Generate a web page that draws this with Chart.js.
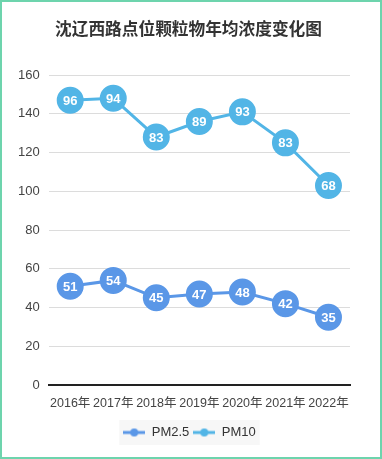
<!DOCTYPE html>
<html><head><meta charset="utf-8">
<script src="https://cdn.jsdelivr.net/npm/chart.js@4/dist/chart.umd.min.js"></script>
<style>
html,body{margin:0;padding:0;background:#fff;}
#wrap{position:relative;width:382px;height:459px;}
#frame{position:absolute;left:0;top:0;width:382px;height:459px;box-sizing:border-box;border:2px solid #6dd4ad;pointer-events:none;}
canvas{display:block;}
</style></head>
<body>
<div id="wrap"><canvas id="c" width="382" height="459"></canvas><div id="frame"></div></div>
<script>
const titleText = "沈辽西路点位颗粒物年均浓度变化图";
const categories = ["2016年","2017年","2018年","2019年","2020年","2021年","2022年"];
const pm25 = [51,54,45,47,48,42,35];
const pm10 = [96,94,83,89,93,83,68];
const seriesNames = ["PM2.5","PM10"];
const seriesColors = ["#5a97e7","#52b5e6"];
const yTicks = {min:0,max:160,step:20};

const FONT = "'Liberation Sans','Noto Sans CJK SC',Arial,sans-serif";

function legendIcon(color){
  const cv = document.createElement('canvas');
  cv.width = 22; cv.height = 10;
  const x = cv.getContext('2d');
  x.strokeStyle = color; x.lineWidth = 3;
  x.beginPath(); x.moveTo(0,5); x.lineTo(22,5); x.stroke();
  x.fillStyle = color; x.beginPath(); x.arc(11,5,4,0,Math.PI*2); x.fill();
  return cv;
}

const labelPlugin = {
  id:'pointLabels',
  afterDatasetsDraw(chart){
    const ctx = chart.ctx;
    ctx.save();
    ctx.font = "bold 13px " + FONT;
    ctx.fillStyle = "#fff";
    ctx.textAlign = "center";
    ctx.textBaseline = "middle";
    chart.data.datasets.forEach((ds,di)=>{
      const meta = chart.getDatasetMeta(di);
      meta.data.forEach((el,i)=>{
        ctx.fillText(String(ds.data[i]), el.x, el.y+1);
      });
    });
    ctx.restore();
  }
};

const centerShift = {
  id:'centerShift',
  afterLayout(chart){
    const lg = chart.legend;
    if(lg){ lg.left = 0; lg.right = 379; }
    const tb = chart.titleBlock;
    if(tb){ tb.left = 0; tb.right = 377; }
  }
};

const legendBg = {
  id:'legendBg',
  beforeDraw(chart){
    const lg = chart.legend;
    if(!lg || !lg.legendHitBoxes || !lg.legendHitBoxes.length) return;
    const hb = lg.legendHitBoxes;
    let x0 = Infinity, x1 = -Infinity, y0 = Infinity, y1 = -Infinity;
    hb.forEach(b=>{x0=Math.min(x0,b.left);x1=Math.max(x1,b.left+b.width);y0=Math.min(y0,b.top);y1=Math.max(y1,b.top+b.height);});
    const ctx = chart.ctx;
    ctx.save();
    ctx.fillStyle = "#f7f7f7";
    ctx.fillRect(x0-4, y0-6, (x1-x0)+8, (y1-y0)+12);
    ctx.restore();
  }
};

new Chart(document.getElementById('c'), {
  type:'line',
  data:{
    labels:categories,
    datasets:[
      {label:seriesNames[0], data:pm25, borderColor:seriesColors[0], backgroundColor:seriesColors[0],
       pointBackgroundColor:seriesColors[0], pointBorderColor:seriesColors[0], borderWidth:3, pointRadius:12, pointHoverRadius:12, fill:false, tension:0},
      {label:seriesNames[1], data:pm10, borderColor:seriesColors[1], backgroundColor:seriesColors[1],
       pointBackgroundColor:seriesColors[1], pointBorderColor:seriesColors[1], borderWidth:3, pointRadius:12, pointHoverRadius:12, fill:false, tension:0}
    ]
  },
  options:{
    responsive:false,
    animation:false,
    layout:{padding:{left:9,right:32,top:0,bottom:10}},
    plugins:{
      title:{display:true,text:titleText,color:"#333",font:{family:FONT,size:16.7,weight:'bold'},padding:{top:20,bottom:35}},
      legend:{position:'bottom',
        labels:{usePointStyle:true,pointStyleWidth:22,boxHeight:10,color:"#333",font:{family:FONT,size:13},padding:4,
          generateLabels(chart){
            return chart.data.datasets.map((ds,i)=>({text:ds.label,pointStyle:legendIcon(seriesColors[i]),fillStyle:seriesColors[i],strokeStyle:seriesColors[i],lineWidth:0,datasetIndex:i,fontColor:"#333"}));
          }
        }},
      tooltip:{enabled:false}
    },
    scales:{
      x:{stacked:true, offset:true, grid:{display:false, drawTicks:false},
         border:{display:true,color:"#222",width:2},
         ticks:{color:"#444",font:{family:FONT,size:12.5},padding:11,maxRotation:0,autoSkip:false}},
      y:{stacked:true, min:yTicks.min, max:yTicks.max,
         grid:{color:"#dcdcdc",drawTicks:false},
         border:{display:false},
         ticks:{stepSize:yTicks.step,color:"#444",font:{family:FONT,size:13},padding:9}}
    }
  },
  plugins:[centerShift,legendBg,labelPlugin]
});
</script>
</body></html>
